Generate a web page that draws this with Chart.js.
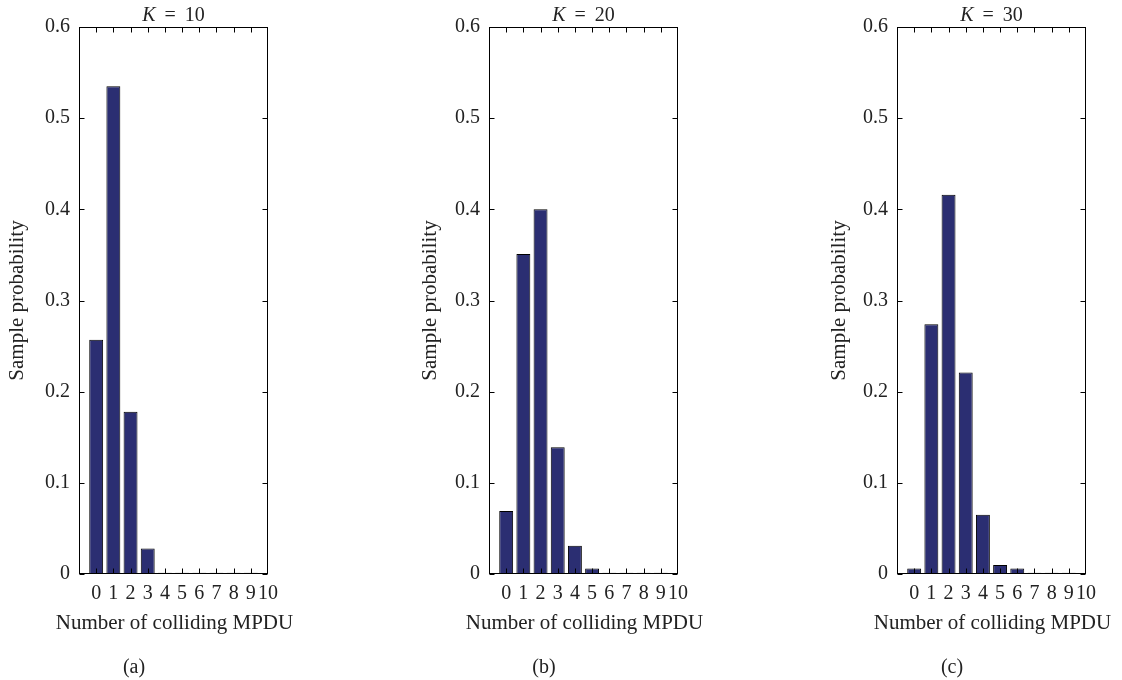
<!DOCTYPE html>
<html>
<head>
<meta charset="utf-8">
<script src="https://cdn.jsdelivr.net/npm/chart.js@4.4.0/dist/chart.umd.min.js"></script>
<style>
body { margin: 0; background: #fff; }
.panel { position: absolute; top: 0; width: 300px; height: 680px; }
</style>
</head>
<body>
<div class="panel" style="left:0px"><canvas id="chartA"></canvas></div>
<div class="panel" style="left:410px"><canvas id="chartB"></canvas></div>
<div class="panel" style="left:818px"><canvas id="chartC"></canvas></div>
<script>
// number of colliding MPDUs (bar positions) and axis tick labels
var collisions = [0, 1, 2, 3, 4, 5, 6, 7, 8, 9];
var xTickLabels = ['0', '1', '2', '3', '4', '5', '6', '7', '8', '9', '10'];
var yTicks = [0, 0.1, 0.2, 0.3, 0.4, 0.5, 0.6];

// sample probabilities
var probK10 = [0.257, 0.535, 0.178, 0.028, 0.0015, 0.0015, 0.0015, 0.0015, 0.0015, 0.0015];
var probK20 = [0.069, 0.351, 0.400, 0.139, 0.031, 0.006, 0.0015, 0.0015, 0.0015, 0.0015];
var probK30 = [0.006, 0.274, 0.416, 0.221, 0.065, 0.010, 0.006, 0.0015, 0.0015, 0.0015];

var kValues = ['10', '20', '30'];
var panelLetters = ['(a)', '(b)', '(c)'];
var xTitle = 'Number of colliding MPDU';
var yTitle = 'Sample probability';

var barColor = '#2b2e72';
var textColor = '#222';
var serif = '"Liberation Serif", "DejaVu Serif", serif';

// box round the plot, inward ticks on all sides, "K = .." title and x title
var framePlugin = {
    id: 'frame',
    afterDatasetsDraw: function (chart, args, opts) {
        var a = chart.chartArea, ctx = chart.ctx;
        var xs = chart.scales.x, ys = chart.scales.y;
        var l = Math.round(a.left) + 0.5, r = Math.round(a.right) - 0.5;
        var t = Math.round(a.top) + 0.5, b = Math.round(a.bottom) - 0.5;
        ctx.save();
        ctx.strokeStyle = '#000';
        ctx.lineWidth = 1;
        ctx.beginPath();
        ys.ticks.forEach(function (tk) {
            var py = Math.round(ys.getPixelForValue(tk.value)) + 0.5;
            ctx.moveTo(l, py); ctx.lineTo(l + 5, py);
            ctx.moveTo(r, py); ctx.lineTo(r - 5, py);
        });
        xs.ticks.forEach(function (tk) {
            if (tk.value < 0 || tk.value >= 10) return;
            var px = Math.round(xs.getPixelForValue(tk.value)) + 0.5;
            ctx.moveTo(px, t); ctx.lineTo(px, t + 5);
            ctx.moveTo(px, b); ctx.lineTo(px, b - 5);
        });
        ctx.stroke();
        ctx.strokeRect(l, t, r - l, b - t);

        var cx = (a.left + a.right) / 2;
        ctx.fillStyle = textColor;
        ctx.textBaseline = 'alphabetic';
        ctx.textAlign = 'left';

        // title with italic K and wide spacing round "="
        var italic = 'italic 20px ' + serif, normal = '20px ' + serif;
        var gap = 9;
        ctx.font = italic;
        var wK = ctx.measureText('K').width;
        ctx.font = normal;
        var wEq = ctx.measureText('=').width;
        var wNum = ctx.measureText(opts.k).width;
        var x0 = cx - (wK + gap + wEq + gap + wNum) / 2;
        ctx.font = italic;
        ctx.fillText('K', x0, 21);
        ctx.font = normal;
        ctx.fillText('=', x0 + wK + gap, 21);
        ctx.fillText(opts.k, x0 + wK + gap + wEq + gap, 21);

        // x axis title (wider than the plot, so not squeezed)
        ctx.font = '21px ' + serif;
        ctx.textAlign = 'center';
        ctx.fillText(xTitle, cx + 1, 629);
        ctx.restore();
    }
};

function makePanel(id, values, k, letter, yTitlePad) {
    var points = collisions.map(function (c, i) { return { x: c, y: values[i] }; });
    new Chart(document.getElementById(id), {
        type: 'bar',
        data: {
            datasets: [{
                data: points,
                backgroundColor: barColor,
                borderColor: '#000',
                borderWidth: 1,
                borderSkipped: false,
                barPercentage: 0.9,
                categoryPercentage: 0.9
            }]
        },
        options: {
            responsive: true,
            maintainAspectRatio: false,
            animation: false,
            layout: { padding: { top: 27, right: 32, left: 0, bottom: 0 } },
            plugins: {
                legend: { display: false },
                tooltip: { enabled: false },
                title: { display: false },
                subtitle: {
                    display: true,
                    position: 'bottom',
                    text: letter,
                    color: textColor,
                    font: { family: serif, size: 20, weight: 'normal' },
                    padding: { top: 0, bottom: 0 }
                },
                frame: { k: k }
            },
            scales: {
                x: {
                    type: 'linear',
                    min: -1,
                    max: 10,
                    offset: false,
                    grid: { display: false, drawTicks: false, offset: false },
                    border: { display: false },
                    ticks: {
                        stepSize: 1,
                        autoSkip: false,
                        maxRotation: 0,
                        padding: 8,
                        color: textColor,
                        font: { family: serif, size: 20 },
                        callback: function (v) { return v >= 0 ? xTickLabels[v] : ''; }
                    },
                    title: { display: false },
                    afterFit: function (s) { s.height = 82; }
                },
                y: {
                    min: 0,
                    max: 0.6,
                    grid: { display: false, drawTicks: false },
                    border: { display: false },
                    afterBuildTicks: function (s) { s.ticks = yTicks.map(function (v) { return { value: v }; }); },
                    ticks: {
                        padding: 9,
                        color: textColor,
                        font: { family: serif, size: 20 }
                    },
                    title: {
                        display: true,
                        text: yTitle,
                        color: textColor,
                        font: { family: serif, size: 21 },
                        padding: { top: yTitlePad, bottom: 0 }
                    },
                    afterFit: function (s) { s.width = 79; }
                }
            }
        },
        plugins: [framePlugin]
    });
}

makePanel('chartA', probK10, kValues[0], panelLetters[0], 5);
makePanel('chartB', probK20, kValues[1], panelLetters[1], 8);
makePanel('chartC', probK30, kValues[2], panelLetters[2], 9);
</script>
</body>
</html>
